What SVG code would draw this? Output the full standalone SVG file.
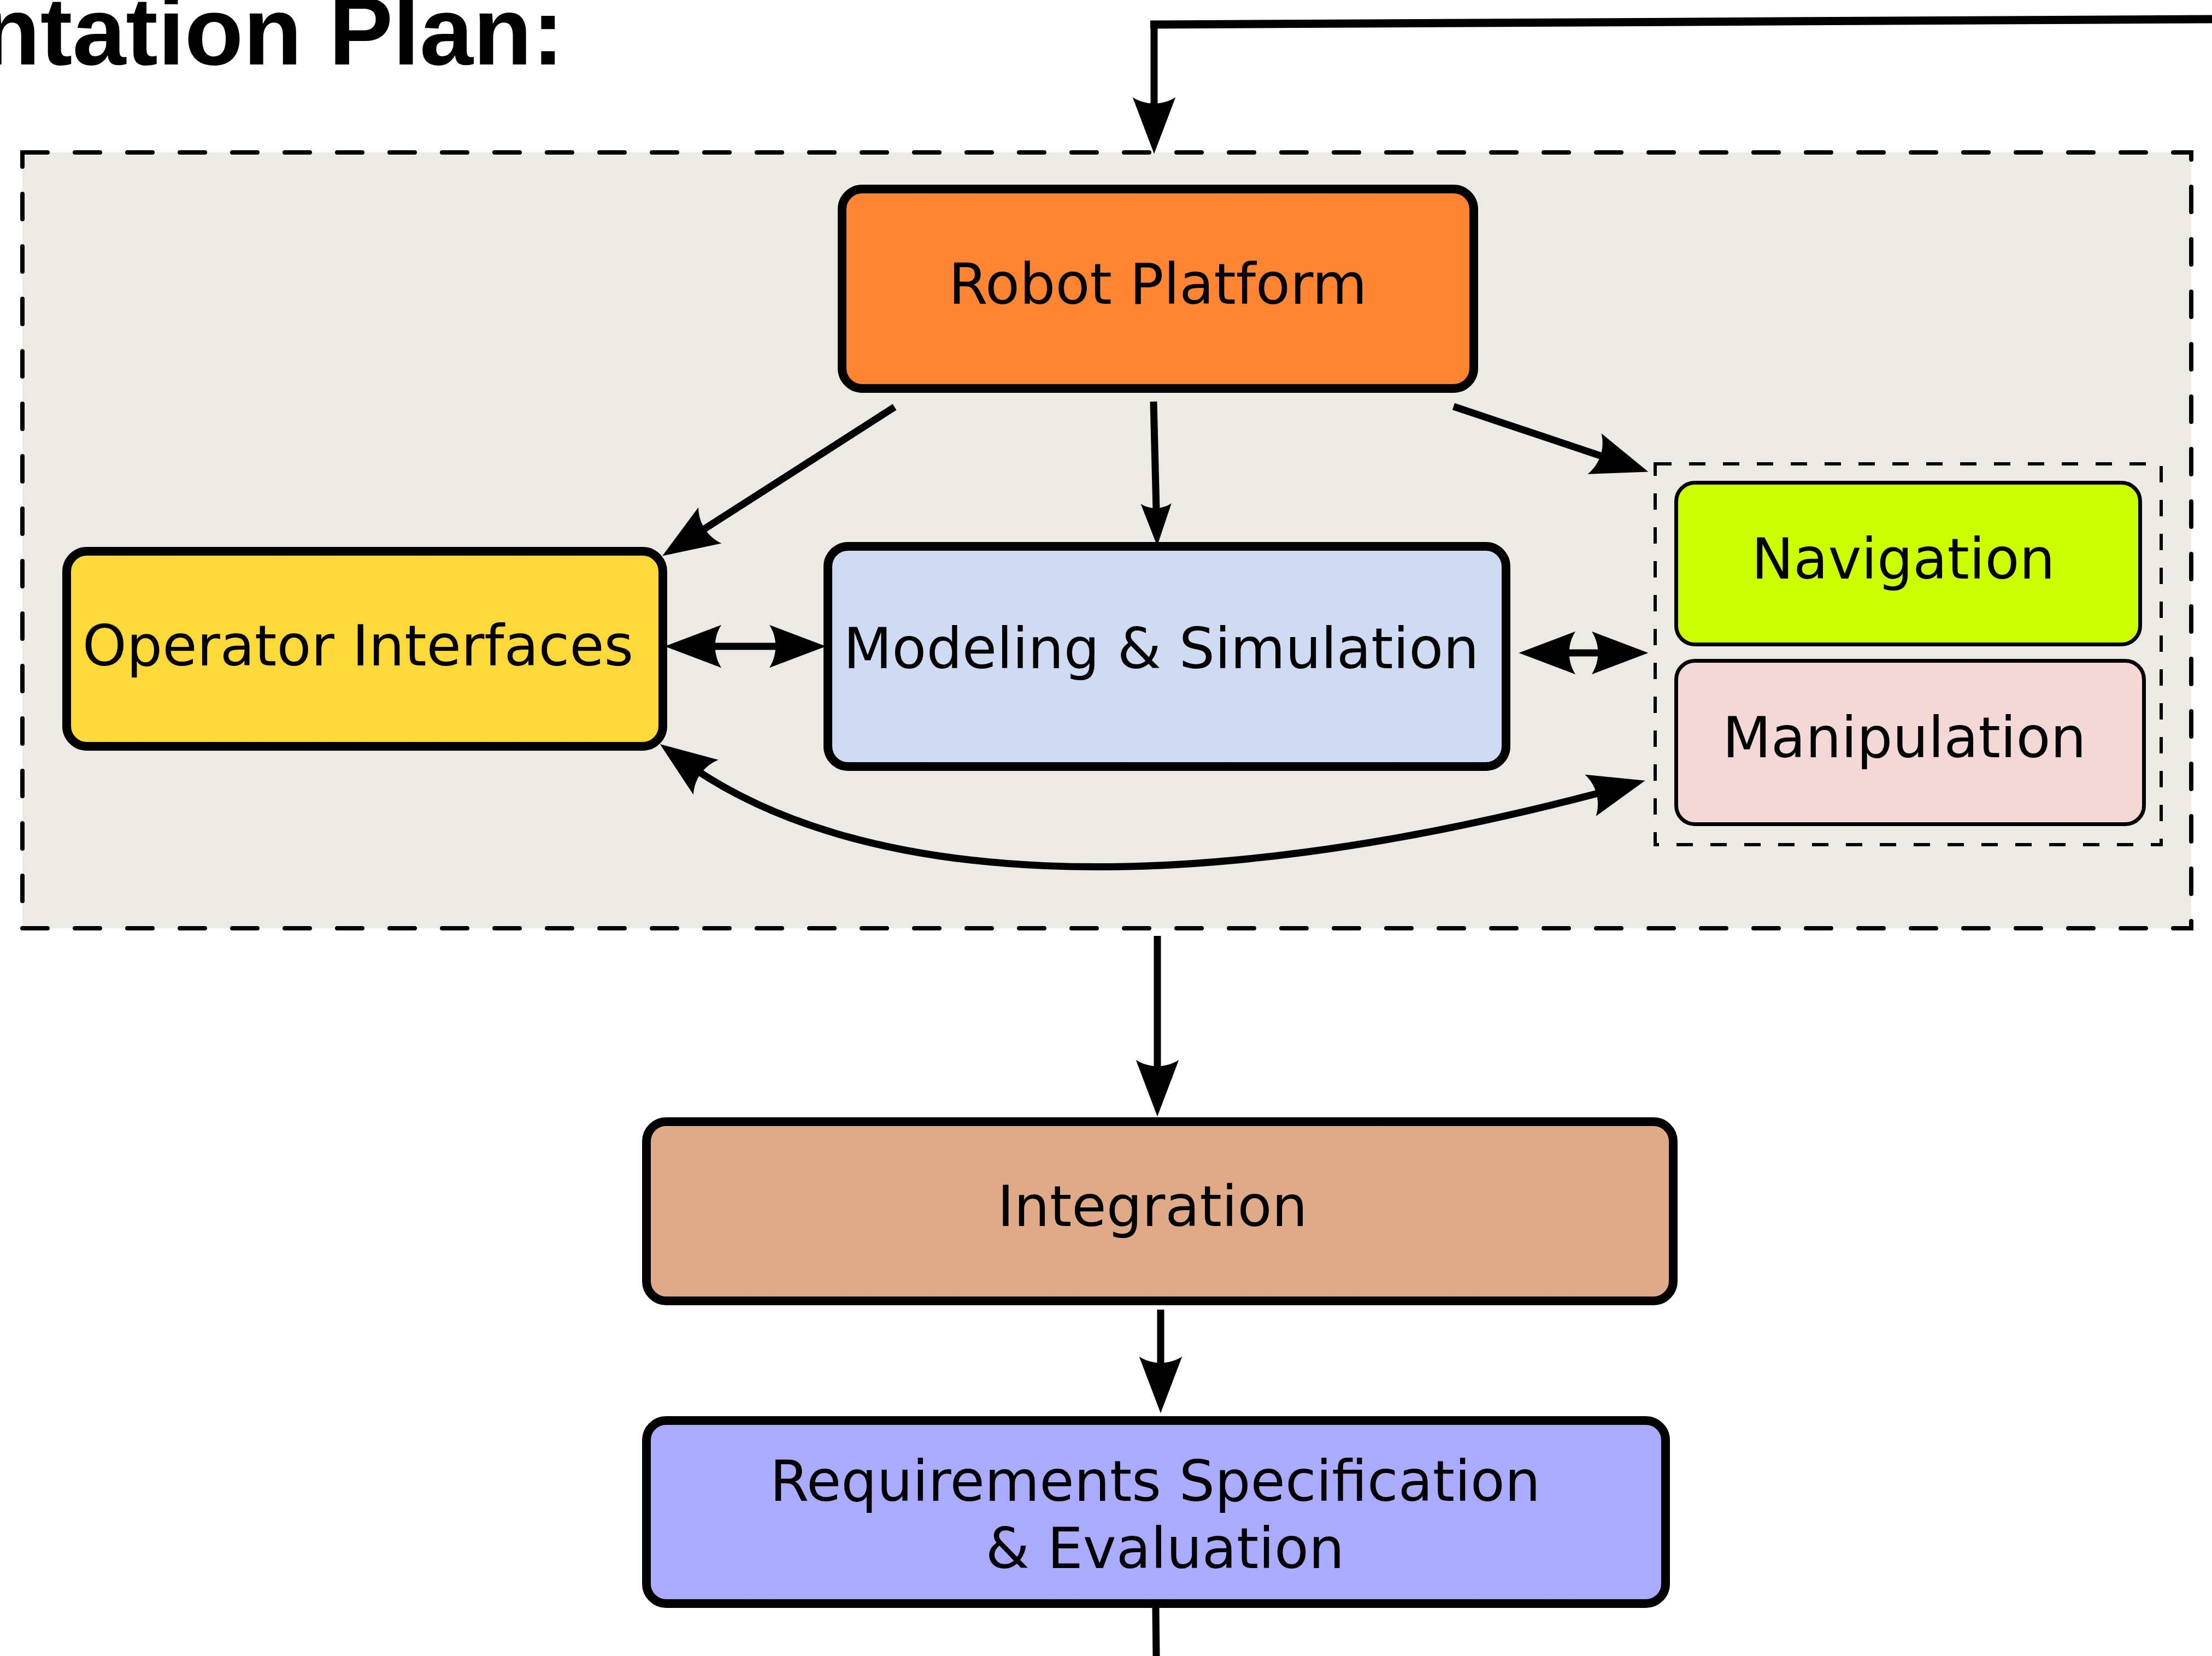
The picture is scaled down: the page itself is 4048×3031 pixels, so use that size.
<svg xmlns="http://www.w3.org/2000/svg" width="4048" height="3031" viewBox="0 0 4048 3031">
<style>
.box{stroke:#000;stroke-width:16}
.sub{stroke:#000;stroke-width:7}
.lbl{font-family:"DejaVu Sans",sans-serif;font-size:103px;fill:#000;text-anchor:middle}
.ln{fill:none;stroke:#000;stroke-width:13}
</style>
<defs>
<marker id="ah" markerUnits="userSpaceOnUse" markerWidth="120" markerHeight="100" refX="45" refY="0" viewBox="-5 -40 110 80" orient="auto-start-reverse" overflow="visible">
<path d="M95,0 L0,-36 C14,-14 14,14 0,36 Z" fill="#000"/>
</marker>
<marker id="ahs" markerUnits="userSpaceOnUse" markerWidth="90" markerHeight="70" refX="35" refY="0" viewBox="-5 -30 80 60" orient="auto-start-reverse" overflow="visible">
<path d="M69,0 L0,-25 C10,-10 10,10 0,25 Z" fill="#000"/>
</marker>
</defs>
<rect width="4048" height="3031" fill="#fff"/>
<text x="1032" y="118" font-family="'Liberation Sans',Arial,sans-serif" font-weight="bold" font-size="176" text-anchor="end">ntation Plan:</text>

<g id="group-main">
<rect x="41" y="279" width="3969" height="1420" fill="#edeae6" stroke="#000" stroke-width="8" stroke-dasharray="46 50" stroke-linecap="round"/>
</g>
<g id="group-effectors">
<rect x="3029" y="849" width="926" height="697" fill="none" stroke="#000" stroke-width="6" stroke-dasharray="30 32"/>
</g>

<g id="robot-platform">
<rect class="box" x="1541" y="346" width="1156" height="365" rx="37" fill="#ff8533"/>
<text class="lbl" x="2119" y="556">Robot Platform</text>
</g>
<g id="operator-interfaces">
<rect class="box" x="122" y="1009" width="1091" height="357" rx="37" fill="#ffd83a"/>
<text class="lbl" x="655" y="1218">Operator Interfaces</text>
</g>
<g id="modeling-simulation">
<rect class="box" x="1515" y="1000" width="1241" height="403" rx="37" fill="#cfdbf3"/>
<text class="lbl" x="2125" y="1223">Modeling &amp; Simulation</text>
</g>
<g id="navigation">
<rect class="sub" x="3067.5" y="883.5" width="849" height="296" rx="34" fill="#ccff00"/>
<text class="lbl" x="3483" y="1059">Navigation</text>
</g>
<g id="manipulation">
<rect class="sub" x="3067.5" y="1209.5" width="856" height="299" rx="34" fill="#f4d7d7"/>
<text class="lbl" x="3485" y="1386">Manipulation</text>
</g>
<g id="integration">
<rect class="box" x="1183" y="2053" width="1879" height="328" rx="36" fill="#deaa87"/>
<text class="lbl" x="2109" y="2244">Integration</text>
</g>
<g id="requirements">
<rect class="box" x="1183" y="2600" width="1865" height="335" rx="36" fill="#aaaaff"/>
<text class="lbl" x="2114" y="2747">Requirements Specification</text>
<text class="lbl" x="2132" y="2870">&amp; Evaluation</text>
</g>

<g id="connectors">
<path d="M4048,35 L2105,45" fill="none" stroke="#000" stroke-width="15"/>
<path class="ln" d="M2112,38 L2112,227" stroke-width="12" marker-end="url(#ah)"/>
<path class="ln" d="M1637,745 L1258,988" marker-end="url(#ah)"/>
<path class="ln" d="M2111,735 L2116.7,961" stroke-width="10" marker-end="url(#ahs)"/>
<path class="ln" d="M2660,744 L2964.6,846.1" stroke-width="14" marker-end="url(#ah)"/>
<path class="ln" d="M1271,1183 L1457,1183" stroke-width="14" marker-start="url(#ah)" marker-end="url(#ah)"/>
<path class="ln" d="M2834,1195 L2962,1195" stroke-width="14" marker-start="url(#ah)" marker-end="url(#ah)"/>
<path class="ln" d="M1252,1394 C1560,1616 2137,1664 2958,1443" stroke-width="14" marker-start="url(#ah)" marker-end="url(#ah)"/>
<path class="ln" d="M2118,1713 L2118,1989" stroke-width="12" marker-end="url(#ah)"/>
<path class="ln" d="M2124,2397 L2124,2532" stroke-width="12" marker-end="url(#ah)"/>
<path class="ln" d="M2115,2943 L2116,3031" stroke-width="12"/>
</g>
</svg>
